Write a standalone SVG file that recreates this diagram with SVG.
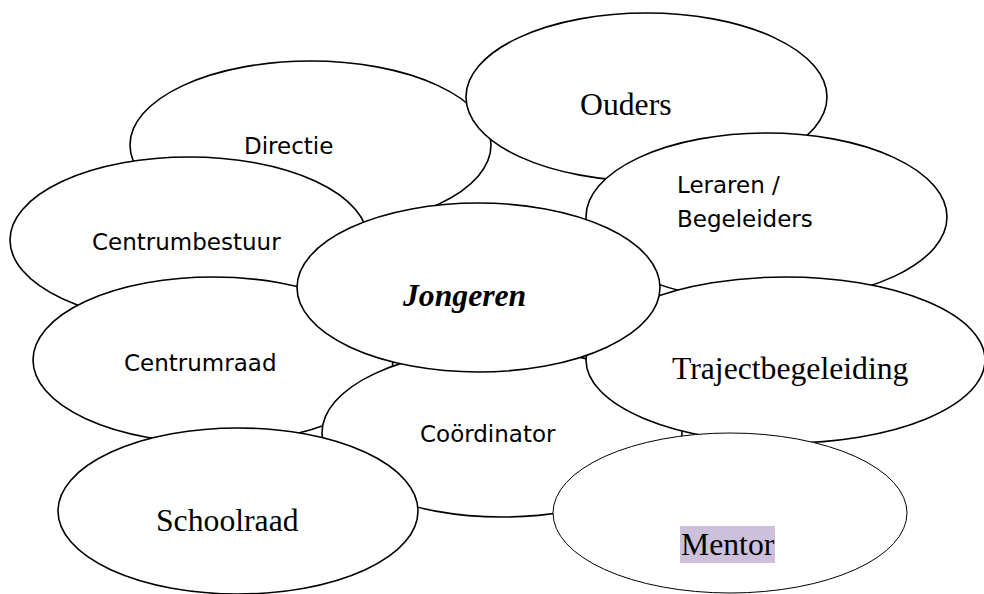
<svg xmlns="http://www.w3.org/2000/svg" width="984" height="594" viewBox="0 0 984 594">
<style>
.n ellipse{fill:#fff;stroke:#000;stroke-width:1.6}
.thin ellipse{stroke-width:1}
.sans{font-family:"DejaVu Sans",Verdana,sans-serif;font-size:23px;fill:#000}
.serif{font-family:"Liberation Serif","Times New Roman",serif;font-size:31.7px;fill:#000}
.bi{font-family:"Liberation Serif","Times New Roman",serif;font-size:31.7px;font-weight:bold;font-style:italic;fill:#000}
</style>
<rect width="984" height="594" fill="#fff"/>
<g id="connectors"></g>
<g id="directie" class="n"><ellipse cx="310.5" cy="145" rx="180.5" ry="84"/><text class="sans" x="244" y="154">Directie</text></g>
<g id="ouders" class="n"><ellipse cx="646.5" cy="97" rx="180.5" ry="84"/><text class="serif" x="580" y="115">Ouders</text></g>
<g id="centrumbestuur" class="n"><ellipse cx="189" cy="240" rx="179" ry="83"/><text class="sans" x="92" y="250">Centrumbestuur</text></g>
<g id="leraren" class="n"><ellipse cx="766.5" cy="217" rx="180.5" ry="84"/><text class="sans" x="677" y="193">Leraren /</text><text class="sans" x="677" y="227">Begeleiders</text></g>
<g id="centrumraad" class="n"><ellipse cx="213" cy="360" rx="180" ry="83"/><text class="sans" x="124" y="371">Centrumraad</text></g>
<g id="coordinator" class="n"><ellipse cx="502" cy="433" rx="180" ry="84"/><text class="sans" x="420" y="442">Coördinator</text></g>
<g id="trajectbegeleiding" class="n"><ellipse cx="785.5" cy="360" rx="199.5" ry="83"/><text class="serif" x="672" y="379">Trajectbegeleiding</text></g>
<g id="jongeren" class="n"><ellipse cx="478.5" cy="287.5" rx="181.5" ry="84.5"/><text class="bi" x="403" y="306">Jongeren</text></g>
<g id="schoolraad" class="n"><ellipse cx="238" cy="511" rx="180" ry="83"/><text class="serif" x="156" y="531">Schoolraad</text></g>
<g id="mentor" class="n thin"><ellipse cx="730" cy="513" rx="177" ry="80"/><rect x="680" y="526" width="95" height="37" fill="#ccc0da"/><text class="serif" x="681" y="555">Mentor</text></g>
</svg>
